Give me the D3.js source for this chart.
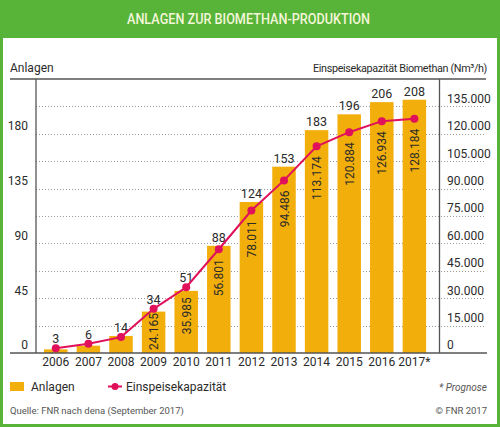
<!DOCTYPE html>
<html><head><meta charset="utf-8">
<script src="https://cdn.jsdelivr.net/npm/d3@7"></script>
<style>
html,body{margin:0;padding:0;background:#fff;}
svg text{font-family:"Roboto","Liberation Sans",sans-serif;}
</style></head>
<body><svg id="c" width="500" height="427"></svg>
<script>
const years = ["2006","2007","2008","2009","2010","2011","2012","2013","2014","2015","2016","2017*"];
const anlagen = [3,6,14,34,51,88,124,153,183,196,206,208];
const kapazitaet = [2600,5100,8700,24165,35985,56801,78011,94486,113174,120884,126934,128184];
const kapLabels = ["","","","24.165","35.985","56.801","78.011","94.486","113.174","120.884","126.934","128.184"];
const leftTicks = [0,45,90,135,180];
const rightTicks = [0,15000,30000,45000,60000,75000,90000,105000,120000,135000];
const gridTicks = [22.5,45,67.5,90,112.5,135,157.5,180,202.5];

const green = "#57b438", orange = "#f2ae0a", pink = "#e0105a", txt = "#2b2b2b";
const svg = d3.select("#c");

svg.append("rect").attr("x",0).attr("y",0).attr("width",500).attr("height",427).attr("fill",green);
svg.append("rect").attr("x",3).attr("y",38).attr("width",494).attr("height",386).attr("fill","#fff");
svg.append("text").attr("x",248.5).attr("y",24).attr("text-anchor","middle")
  .attr("fill","#f4f6d8").attr("font-size",14).attr("font-weight",500)
  .attr("textLength",243).attr("lengthAdjust","spacingAndGlyphs")
  .text("ANLAGEN ZUR BIOMETHAN-PRODUKTION");

const y0 = 353, yTop = 79;
const yL = d3.scaleLinear().domain([0,225]).range([y0,yTop]);
const yR = d3.scaleLinear().domain([0,150000]).range([y0,yTop]);
const x = d3.scaleBand().domain(years).range([39.5,430.7]).paddingInner(0.28).paddingOuter(0.14);
const xAxisL = 36, xAxisR = 439.5;
const fs = 12;

// grid
svg.append("g").selectAll("line").data(gridTicks).join("line")
  .attr("x1",xAxisL).attr("x2",486).attr("y1",d=>Math.round(yL(d))+0.5).attr("y2",d=>Math.round(yL(d))+0.5)
  .attr("stroke","#9a9a9a").attr("stroke-width",1).attr("stroke-dasharray","1,2");

// bars
svg.append("g").selectAll("rect").data(anlagen).join("rect")
  .attr("x",(d,i)=>x(years[i])).attr("width",x.bandwidth())
  .attr("y",d=>yL(d)).attr("height",d=>y0-yL(d)).attr("fill",orange);

// axes lines
svg.append("line").attr("x1",10).attr("x2",486).attr("y1",yTop).attr("y2",yTop).attr("stroke","#555").attr("stroke-width",1.3);
svg.append("line").attr("x1",10).attr("x2",487).attr("y1",y0).attr("y2",y0).attr("stroke","#555").attr("stroke-width",1.3);
svg.append("line").attr("x1",xAxisL).attr("x2",xAxisL).attr("y1",yTop).attr("y2",y0).attr("stroke","#555").attr("stroke-width",1.3);
svg.append("line").attr("x1",xAxisR).attr("x2",xAxisR).attr("y1",yTop).attr("y2",y0).attr("stroke","#555").attr("stroke-width",1.3);

// left axis labels
const axL = d3.axisLeft(yL).tickValues(leftTicks).tickSize(0).tickPadding(0).tickFormat(d3.format("d"));
const gL = svg.append("g").attr("transform","translate(28,-8)").call(axL);
gL.select(".domain").remove();
gL.selectAll("text").attr("font-size",fs).attr("fill",txt).style("font-family","Roboto,sans-serif");

// right axis labels
const fmtR = d => d===0 ? "0" : d3.format(",")(d).replace(/,/g,".");
const axR = d3.axisRight(yR).tickValues(rightTicks).tickSize(0).tickPadding(0).tickFormat(fmtR);
const gR = svg.append("g").attr("transform","translate(447,-8)").call(axR);
gR.select(".domain").remove();
gR.selectAll("text").attr("font-size",fs).attr("fill",txt).style("font-family","Roboto,sans-serif");

// x axis labels
const axX = d3.axisBottom(x).tickSize(0).tickPadding(0);
const gX = svg.append("g").attr("transform",`translate(0,${y0+4})`).call(axX);
gX.select(".domain").remove();
gX.selectAll("text").attr("font-size",fs).attr("fill",txt).style("font-family","Roboto,sans-serif");

// line helpers
const cx = i => x(years[i])+x.bandwidth()/2;

// count labels (kept clear of the line points)
svg.append("g").selectAll("text").data(anlagen).join("text")
  .attr("x",(d,i)=>cx(i)).attr("y",(d,i)=>Math.min(yL(d)-4, yR(kapazitaet[i])-5))
  .attr("text-anchor","middle").attr("font-size",12.5).attr("fill",txt).text(d=>d);

// line
svg.append("path").datum(kapazitaet)
  .attr("d",d3.line().x((d,i)=>cx(i)).y(d=>yR(d)))
  .attr("fill","none").attr("stroke",pink).attr("stroke-width",2);
svg.append("g").selectAll("circle").data(kapazitaet).join("circle")
  .attr("cx",(d,i)=>cx(i)).attr("cy",d=>yR(d)).attr("r",4).attr("fill",pink);

// capacity labels (rotated, reading bottom-to-top, top end just below the point)
const capData = kapazitaet.map((v,i)=>({v, i, label: kapLabels[i]})).filter(o=>o.label);
svg.append("g").selectAll("text").data(capData).join("text")
  .attr("transform",o=>`translate(${cx(o.i)+4.5},${Math.min(yR(o.v)+10, y0-40)}) rotate(-90)`)
  .attr("text-anchor","end").attr("font-size",fs).attr("fill",txt)
  .text(o=>o.label);

// axis titles
svg.append("text").attr("x",10).attr("y",72).attr("font-size",fs).attr("fill",txt).text("Anlagen");
svg.append("text").attr("x",487).attr("y",72).attr("text-anchor","end").attr("font-size",10.8)
  .attr("letter-spacing",-0.35).attr("fill",txt).text("Einspeisekapazität Biomethan (Nm³/h)");

// legend
svg.append("rect").attr("x",10).attr("y",382).attr("width",14).attr("height",9).attr("fill",orange);
svg.append("text").attr("x",31).attr("y",391).attr("font-size",fs).attr("fill",txt).text("Anlagen");
svg.append("line").attr("x1",108).attr("x2",122).attr("y1",386.5).attr("y2",386.5).attr("stroke",pink).attr("stroke-width",2);
svg.append("circle").attr("cx",115).attr("cy",386.5).attr("r",3.5).attr("fill",pink);
svg.append("text").attr("x",126).attr("y",391).attr("font-size",fs).attr("fill",txt).text("Einspeisekapazität");
svg.append("text").attr("x",487).attr("y",391).attr("text-anchor","end").attr("font-size",10).attr("font-style","italic").attr("fill","#555").text("* Prognose");

// footer
svg.append("text").attr("x",10).attr("y",414).attr("font-size",9.5).attr("fill","#555").text("Quelle: FNR nach dena (September 2017)");
svg.append("text").attr("x",487).attr("y",414).attr("text-anchor","end").attr("font-size",9.5).attr("fill","#555").text("© FNR 2017");
</script></body></html>
